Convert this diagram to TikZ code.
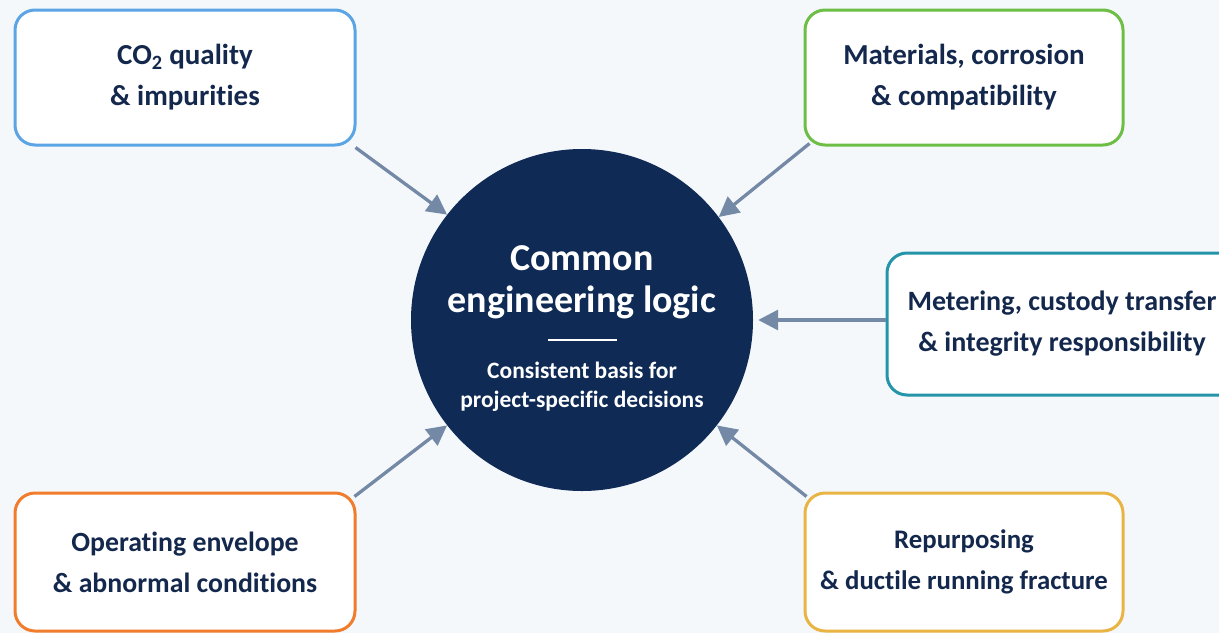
\documentclass[tikz,border=0pt]{standalone}
\usepackage{fontspec}
\setmainfont{Carlito}[Ligatures=NoCommon]
\usetikzlibrary{arrows.meta}

\definecolor{pagebg}{HTML}{F5F8FB}
\definecolor{navy}{HTML}{0E2A55}
\definecolor{inktext}{HTML}{13284C}
\definecolor{arrowgray}{HTML}{7389A6}
\definecolor{cblue}{HTML}{5BA4E5}
\definecolor{cgreen}{HTML}{6DBE45}
\definecolor{cteal}{HTML}{2494A8}
\definecolor{corange}{HTML}{F07C2C}
\definecolor{cgold}{HTML}{E9B443}

\tikzset{
  topic/.style={draw=#1, line width=3pt, fill=white, rounded corners=20pt,
    align=center, text=inktext, inner sep=0pt,
    font=\bfseries\fontsize{29}{41}\selectfont},
  topicsize/.style={font=\bfseries\fontsize{#1}{41}\selectfont},
  hub/.style={circle, fill=navy, draw=none, minimum size=342pt, inner sep=0pt},
  hubtitle/.style={anchor=base, text=white, inner sep=0pt,
    font=\bfseries\fontsize{38}{42}\selectfont},
  hubsub/.style={anchor=base, text=white, inner sep=0pt,
    font=\bfseries\fontsize{23.5}{29}\selectfont},
  feed/.style={draw=arrowgray, line width=3.3pt,
    -{Triangle[length=20pt,width=20pt]}},
}

\begin{document}
\begin{tikzpicture}[x=1pt,y=-1pt]
\useasboundingbox (0,0) rectangle (1219,633);
\fill[pagebg] (0,0) rectangle (1219,633);

% central hub
\node[hub] (hub) at (582,320) {};
\node[hubtitle] (t1) at (582,270) {Common};
\node[hubtitle] (t2) at (582,312) {engineering logic};
\draw[white, line width=2pt] (548,340) coordinate (r1) -- (617,340) coordinate (r2);
\node[hubsub] (s1) at (582,378) {Consistent basis for};
\node[hubsub] (s2) at (582,407) {project-specific decisions};

% surrounding topics
\node[topic=cblue, minimum width=340pt, minimum height=135pt] (tl) at (185,77.5)
  {CO\textsubscript{2} quality\\\& impurities};
\node[topic=cgreen, minimum width=318pt, minimum height=135pt] (tr) at (964,77.5)
  {Materials, corrosion\\\& compatibility};
\node[topic=cteal, topicsize=28, minimum width=362pt, minimum height=142pt] (rt) at (1068,324)
  {\makebox[0pt]{\hspace{-12pt}Metering, custody transfer}\\\makebox[0pt]{\hspace{-12pt}\& integrity responsibility}};
\node[topic=corange, topicsize=27.8, minimum width=340pt, minimum height=138pt] (bl) at (185,562)
  {Operating envelope\\\& abnormal conditions};
\node[topic=cgold, topicsize=26.8, minimum width=318pt, minimum height=138pt] (br) at (964,562)
  {Repurposing\\\& ductile running fracture};

% connectors into the hub
\draw[feed] ([shift={(-1pt,-1pt)}]tl.south east) -- (hub.142);
\draw[feed] ([shift={(6pt,3pt)}]tr.south west) -- (hub.37);
\draw[feed] (rt.west |- hub.east) -- ([xshift=5pt]hub.east);
\draw[feed] ([shift={(-2pt,-5pt)}]bl.north east) -- (hub.218);
\draw[feed] ([shift={(3pt,-5pt)}]br.north west) -- (hub.322);
\end{tikzpicture}
\end{document}
